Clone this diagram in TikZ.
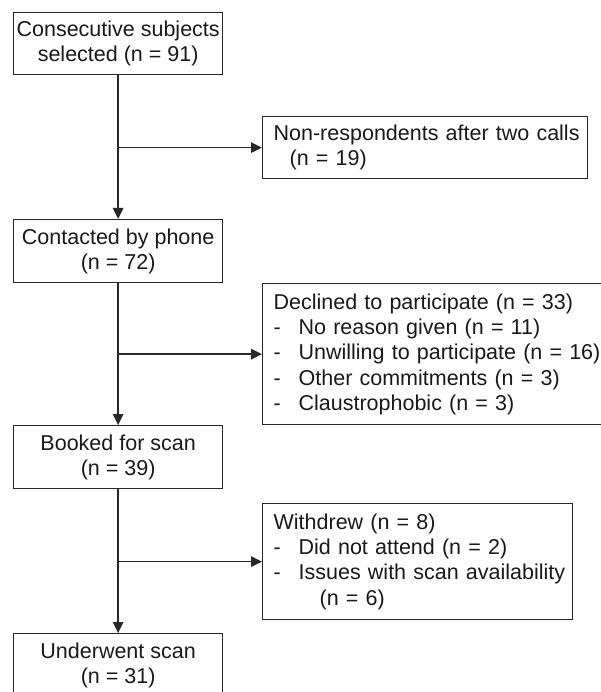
\documentclass[tikz,border=0pt]{standalone}
\usepackage{fontspec}
\setmainfont{Liberation Sans}
\usetikzlibrary{arrows.meta}
\definecolor{lin}{RGB}{40,40,40}
\definecolor{txt}{RGB}{25,25,25}
\newcommand{\dsh}{\makebox[25pt][l]{-}}
\newcommand{\oneline}[1]{\mbox{#1}}
\begin{document}
\begin{tikzpicture}[x=1pt,y=-1pt,
  box/.style={draw=lin, line width=1.3pt, rectangle, anchor=north west, inner sep=0pt,
    text=txt, font={\fontsize{21.5pt}{25.3pt}\selectfont}},
  cbox/.style={box, align=center},
  lbox/.style={box, align=left, inner xsep=11pt},
  conn/.style={draw=lin, line width=1.4pt},
  arr/.style={conn, -{Triangle[length=11pt,width=10.5pt]}}]
\useasboundingbox (0,0) rectangle (600,692);
\fill[white] (0,0) rectangle (600,692);

\node[cbox, minimum width=209pt, minimum height=62pt] (b1) at (13,12)
  {Consecutive subjects\\selected (n = 91)};
\node[lbox, minimum width=325pt, minimum height=62pt, text width=303pt] (n1) at (262,116)
  {\oneline{Non-respondents after two calls}\\\oneline{\hspace*{16pt}(n = 19)}};
\node[cbox, minimum width=209pt, minimum height=63pt] (b2) at (13,219)
  {Contacted by phone\\(n = 72)};
\node[lbox, minimum width=343pt, minimum height=141pt, text width=321pt] (n2) at (262,283)
  {\oneline{Declined to participate (n = 33)}\\
   \oneline{\dsh No reason given (n = 11)}\\
   \oneline{\dsh Unwilling to participate (n = 16)}\\
   \oneline{\dsh Other commitments (n = 3)}\\
   \oneline{\dsh Claustrophobic (n = 3)}};
\node[cbox, minimum width=209pt, minimum height=63pt] (b3) at (13,425)
  {Booked for scan\\(n = 39)};
\node[lbox, minimum width=310pt, minimum height=116pt, text width=288pt] (n3) at (262,503)
  {\oneline{Withdrew (n = 8)}\\
   \oneline{\dsh Did not attend (n = 2)}\\
   \oneline{\dsh Issues with scan availability}\\
   \oneline{\hspace*{46pt}(n = 6)}};
\node[cbox, minimum width=209pt, minimum height=63pt] (b4) at (13,633)
  {Underwent scan\\(n = 31)};

\draw[arr] (b1.south) -- (b2.north);
\draw[arr] (b2.south) -- (b3.north);
\draw[arr] (b3.south) -- (b4.north);
\draw[arr] (b1.south |- n1.west) -- (n1.west);
\draw[arr] (b2.south |- n2.west) -- (n2.west);
\draw[arr] (b3.south |- n3.west) -- (n3.west);
\end{tikzpicture}
\end{document}
